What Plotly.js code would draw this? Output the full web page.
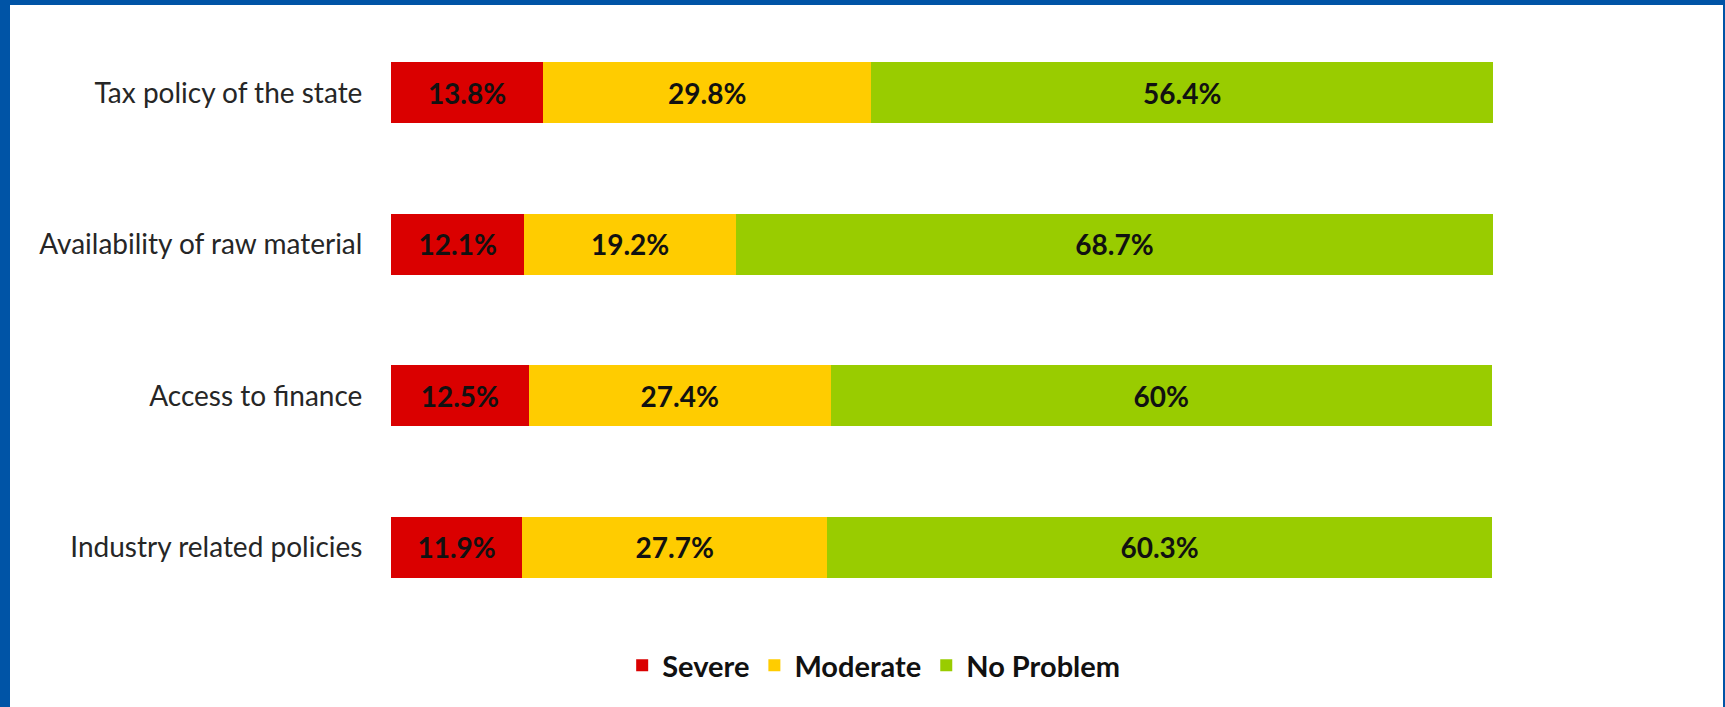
<!DOCTYPE html>
<html>
<head>
<meta charset="utf-8">
<script src="https://cdn.plot.ly/plotly-3.0.1.min.js"></script>
<style>
  html, body { margin: 0; padding: 0; background: #fff; }
  #wrap { position: relative; width: 1725px; height: 707px; }
  #chart { width: 1725px; height: 707px; }
  #frame { position: absolute; left: 0; top: 0; width: 1725px; height: 707px; box-sizing: border-box;
           border-top: 5px solid #0054A6; border-left: 10px solid #0054A6; border-right: 2px solid #0054A6;
           pointer-events: none; }
</style>
</head>
<body>
<div id="wrap"><div id="chart"></div><div id="frame"></div></div>
<script>
const categories = ["Tax policy of the state", "Availability of raw material", "Access to finance", "Industry related policies"];
const severe = [13.8, 12.1, 12.5, 11.9];
const moderate = [29.8, 19.2, 27.4, 27.7];
const noProblem = [56.4, 68.7, 60, 60.3];
const seriesNames = ["Severe", "Moderate", "No Problem"];
const seriesColors = ["#DA0000", "#FFCC00", "#99CC00"];

const FONT = "Lato, 'Liberation Sans', sans-serif";
const values = [severe, moderate, noProblem];
const traces = values.map((v, i) => ({
  type: "bar",
  orientation: "h",
  name: seriesNames[i],
  y: categories,
  x: v,
  marker: { color: seriesColors[i], line: { width: 0 } },
  texttemplate: "%{x}%",
  textposition: "inside",
  insidetextanchor: "middle",
  constraintext: "none",
  textfont: { family: FONT, size: 28, color: "#111", weight: "bold" },
  hoverinfo: "skip"
}));

const layout = {
  width: 1725, height: 707,
  margin: { l: 391, r: 232, t: 17, b: 84 },
  barmode: "stack",
  bargap: 0.6,
  paper_bgcolor: "#fff", plot_bgcolor: "#fff",
  showlegend: true,
  legend: { orientation: "h", x: 0.438, xanchor: "center", y: -0.07, yanchor: "middle",
            font: { family: FONT, size: 29, color: "#111", weight: "bold" }, traceorder: "normal" },
  xaxis: { range: [0, 100], showgrid: false, zeroline: false, showticklabels: false, showline: false, fixedrange: true },
  yaxis: { autorange: "reversed", showgrid: false, zeroline: false, showline: false,
           ticks: "outside", ticklen: 22, tickcolor: "rgba(0,0,0,0)",
           tickfont: { family: FONT, size: 28, color: "#262626" } }
};

Plotly.newPlot("chart", traces, layout, { displayModeBar: false, staticPlot: true });
</script>
</body>
</html>
